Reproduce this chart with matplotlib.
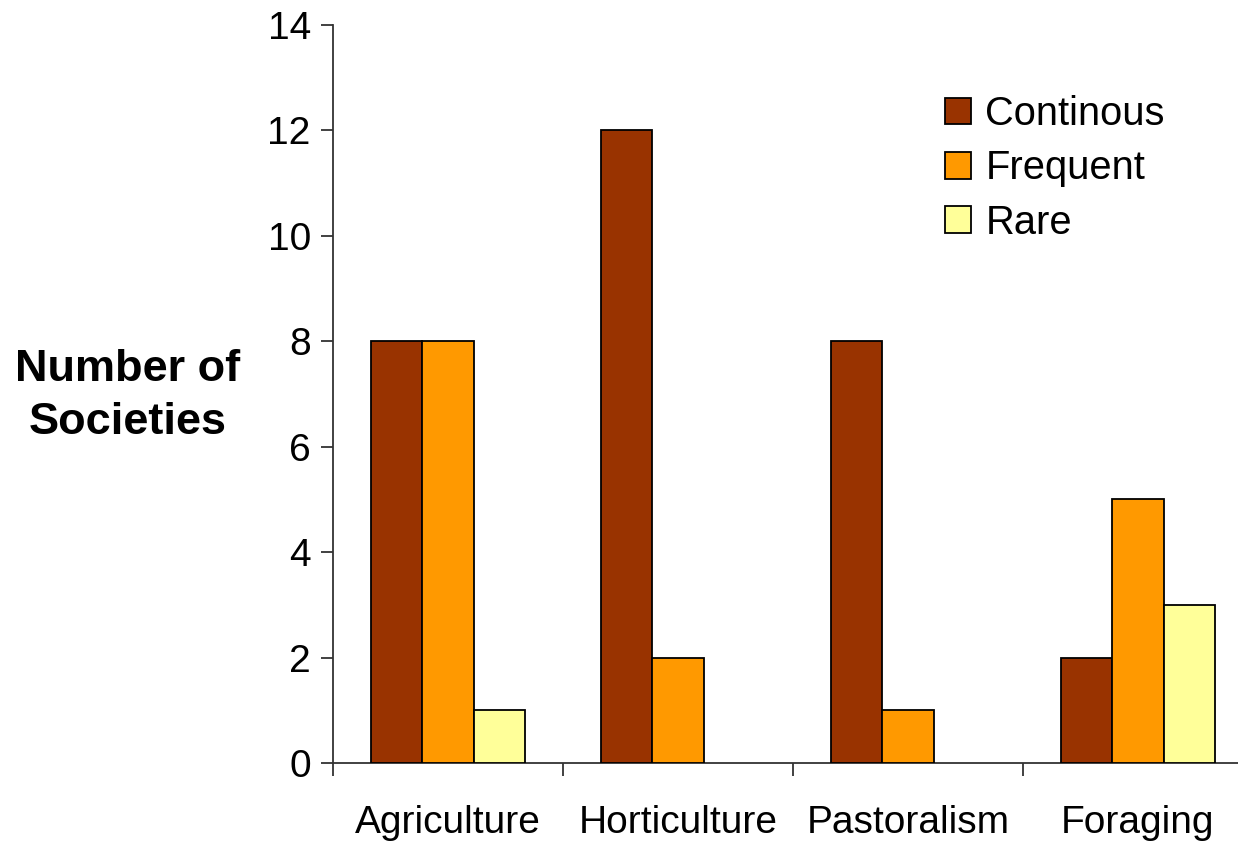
import numpy as np
import matplotlib
matplotlib.use('Agg')
import matplotlib.pyplot as plt
from matplotlib.ticker import FixedLocator

plt.rcParams['font.family'] = ['Liberation Sans', 'DejaVu Sans']

subsistence = ['Agriculture', 'Horticulture', 'Pastoralism', 'Foraging']
continous = [8, 12, 8, 2]
frequent = [8, 2, 1, 5]
rare = [1, 0, 0, 3]

series_names = ['Continous', 'Frequent', 'Rare']
series_colors = ['#993300', '#FF9900', '#FFFF99']

fig = plt.figure(figsize=(12.38, 8.44), dpi=100)
ax = fig.add_axes([333 / 1238, 1 - 763 / 844, 920 / 1238, (763 - 25) / 844])

x = np.arange(len(subsistence))
width = 0.223
for i, (vals, name, col) in enumerate(zip([continous, frequent, rare], series_names, series_colors)):
    pos = x + (i - 1) * width
    keep = [j for j, v in enumerate(vals) if v > 0]
    ax.bar(pos[keep], np.array(vals)[keep], width=width, color=col,
           edgecolor='black', linewidth=1.3, label=name, zorder=3)

ax.set_xlim(-0.5, 3.5)
ax.set_ylim(0, 14)
ax.set_yticks(np.arange(0, 15, 2))
ax.set_xticks(x)
ax.set_xticklabels(subsistence)
ax.xaxis.set_minor_locator(FixedLocator([-0.5, 0.5, 1.5, 2.5]))

for s in ['top', 'right']:
    ax.spines[s].set_visible(False)
for s in ['left', 'bottom']:
    ax.spines[s].set_color('#333333')
    ax.spines[s].set_linewidth(1.3)

ax.tick_params(axis='y', direction='out', length=9, width=1.3, color='#333333',
               labelsize=28, pad=7)
ax.tick_params(axis='x', which='major', length=0, labelsize=28, pad=30)
ax.tick_params(axis='x', which='minor', direction='out', length=9, width=1.3, color='#333333')

fig.text(128 / 1238, 1 - 396 / 844, 'Number of\nSocieties', fontsize=32.5, fontweight='bold',
         ha='center', va='center', linespacing=1.38)

ax.legend(loc='upper left', bbox_to_anchor=(945 / 1238, 1 - 95 / 844),
          bbox_transform=fig.transFigure, frameon=False, fontsize=28.7,
          handlelength=0.66, handleheight=0.66, handletextpad=0.35,
          labelspacing=0.41, borderpad=0, borderaxespad=0)

fig.savefig('out.png', dpi=100)
